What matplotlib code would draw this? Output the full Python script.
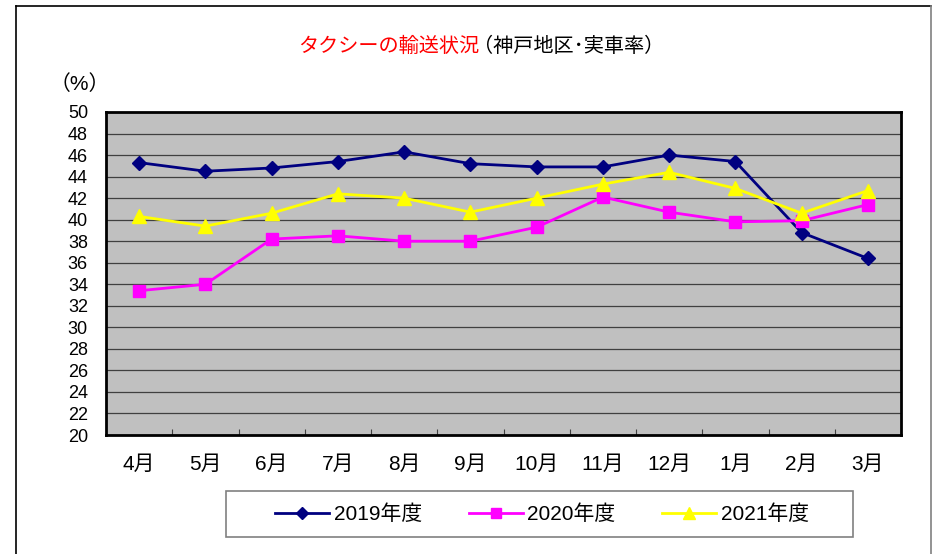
import numpy as np
import matplotlib
matplotlib.use("Agg")
import matplotlib.pyplot as plt
from matplotlib.patches import Rectangle
from matplotlib.lines import Line2D

# フォント設定（数字はArial系、日本語はNoto Sans CJK JPへフォールバック）
plt.rcParams["font.family"] = ["Liberation Sans", "Noto Sans CJK JP"]
plt.rcParams["axes.unicode_minus"] = False

# データ（実車率 %）
months = ["4月", "5月", "6月", "7月", "8月", "9月", "10月", "11月", "12月", "1月", "2月", "3月"]
rate_2019 = [45.3, 44.5, 44.8, 45.4, 46.3, 45.2, 44.9, 44.9, 46.0, 45.4, 38.8, 36.4]
rate_2020 = [33.4, 34.0, 38.2, 38.5, 38.0, 38.0, 39.3, 42.1, 40.7, 39.8, 39.9, 41.4]
rate_2021 = [40.3, 39.4, 40.6, 42.4, 42.0, 40.7, 42.0, 43.3, 44.4, 42.9, 40.6, 42.7]
series_names = ["2019年度", "2020年度", "2021年度"]
yticks = list(range(20, 51, 2))

W, H = 932, 554
fig = plt.figure(figsize=(W / 100, H / 100), dpi=100)

def fx(px):
    return px / W

def fy(py):
    return 1 - py / H

# 外枠
fig.add_artist(Line2D([fx(15.5), fx(930.5)], [fy(6), fy(6)], color="black", lw=1.2))
fig.add_artist(Line2D([fx(15.5), fx(15.5)], [fy(6), fy(554)], color="black", lw=1.2))
fig.add_artist(Line2D([fx(930.5), fx(930.5)], [fy(6), fy(554)], color="#808080", lw=1.2))

ax = fig.add_axes([fx(106), fy(435), fx(901) - fx(106), fy(112) - fy(435)])
ax.set_facecolor("#C0C0C0")

x = np.arange(len(months))
ax.plot(x, rate_2019, color="#000080", lw=2, marker="D", markersize=6.8, label=series_names[0], zorder=3)
ax.plot(x, rate_2020, color="#FF00FF", lw=2, marker="s", markersize=8.4, label=series_names[1], zorder=3)
ax.plot(x, rate_2021, color="#FFFF00", lw=2, marker="^", markersize=10, label=series_names[2], zorder=4)

ax.set_xlim(-0.5, len(months) - 0.5)
ax.set_ylim(20, 50)
ax.set_yticks(yticks)
ax.set_yticklabels([str(v) for v in yticks])
ax.yaxis.grid(True, color="#404040", lw=0.9)
ax.set_axisbelow(True)
ax.tick_params(axis="y", length=0, pad=13, labelsize=13)

ax.set_xticks(x)
ax.set_xticklabels(months)
ax.tick_params(axis="x", which="major", length=0, pad=14, labelsize=15)
ax.set_xticks(np.arange(0.5, len(months) - 0.5, 1), minor=True)
ax.tick_params(axis="x", which="minor", direction="in", length=4, width=0.8, color="#404040")

for sp in ax.spines.values():
    sp.set_linewidth(2)
    sp.set_color("black")

# タイトル（赤＋黒）
fig.text(fx(479), fy(46), "タクシーの輸送状況", color="red", fontsize=14.5, ha="right", va="center")
fig.text(fx(473), fy(46), "（神戸地区･実車率）", color="black", fontsize=14.5, ha="left", va="center")
fig.text(fx(80), fy(84), "（%）", fontsize=15, ha="center", va="center")

# 凡例
fig.add_artist(Rectangle((fx(226), fy(537)), fx(853) - fx(226), fy(491) - fy(537),
                         transform=fig.transFigure, fill=False, edgecolor="#808080", lw=1.2))
handles, labels = ax.get_legend_handles_labels()
fig.legend(handles, labels, loc="center", bbox_to_anchor=(fx(542), fy(514)), ncol=3,
           frameon=False, fontsize=15, handlelength=2.6, handletextpad=0.2,
           columnspacing=2.25, markerscale=0.9)

fig.savefig("out.png", dpi=100)
